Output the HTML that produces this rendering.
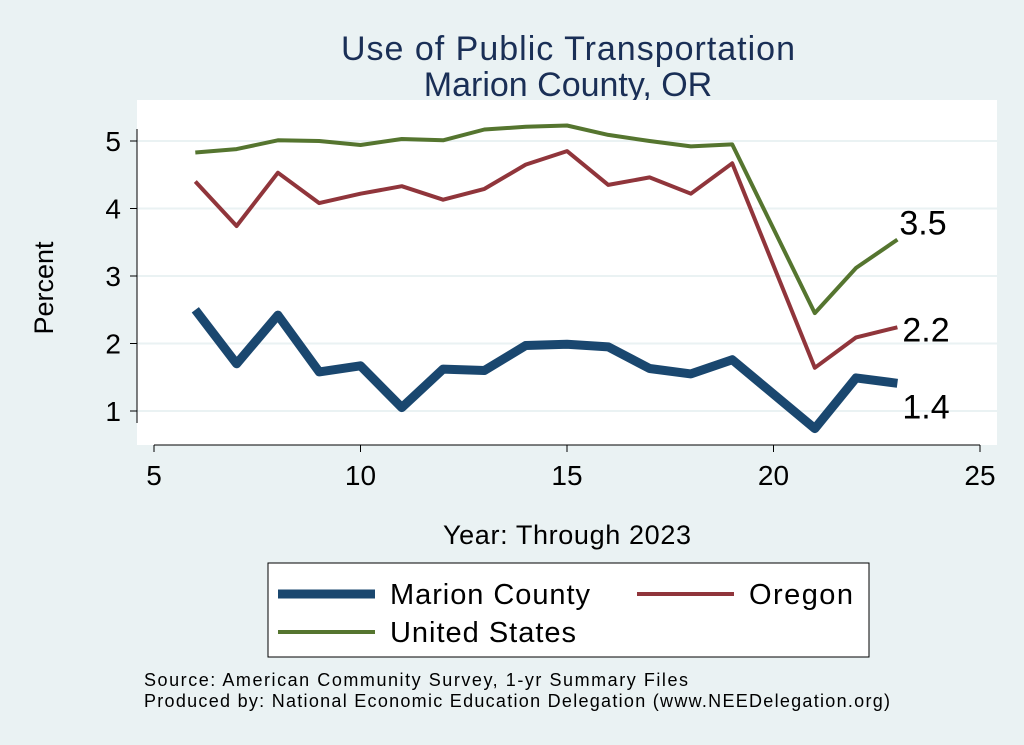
<!DOCTYPE html>
<html><head><meta charset="utf-8"><style>
body{margin:0;background:#eaf2f3;}
svg{display:block;font-family:"Liberation Sans",sans-serif;}
</style></head><body>
<svg id="chart" width="1024" height="745">
<rect x="0" y="0" width="1024" height="745" fill="#eaf2f3"/>
<text x="568" y="60" text-anchor="middle" font-size="34" textLength="454" fill="#1a2f56">Use of Public Transportation</text>
<text x="568" y="96" text-anchor="middle" font-size="34" fill="#1a2f56">Marion County, OR</text>
<rect x="137" y="100" width="860" height="345" fill="#fff"/>
<g id="grid"></g><g id="axes"></g><g id="series"></g><g id="labels"></g>
<text x="53" y="288" transform="rotate(-90 53 288)" font-size="27" text-anchor="middle">Percent</text>
<text x="567" y="544" text-anchor="middle" font-size="27" textLength="248">Year: Through 2023</text>
<g>
<rect x="268" y="563" width="601" height="94" fill="#fff" stroke="#000" stroke-width="1"/>
<line x1="278" y1="594" x2="375" y2="594" stroke="#1a476f" stroke-width="9"/>
<text x="390" y="604" font-size="29" textLength="200">Marion County</text>
<line x1="637" y1="594" x2="734" y2="594" stroke="#90353b" stroke-width="4"/>
<text x="749" y="604" font-size="29" textLength="104">Oregon</text>
<line x1="278" y1="632" x2="375" y2="632" stroke="#55752f" stroke-width="4"/>
<text x="390" y="642" font-size="29" textLength="186">United States</text>
</g>
<text x="144" y="686" font-size="18" textLength="544">Source: American Community Survey, 1-yr Summary Files</text>
<text x="144" y="707" font-size="18" textLength="746">Produced by: National Economic Education Delegation (www.NEEDelegation.org)</text>
</svg>
<script>
const years=[6,7,8,9,10,11,12,13,14,15,16,17,18,19,21,22,23];
const usVals=[4.83,4.88,5.01,5.0,4.94,5.03,5.01,5.17,5.21,5.23,5.09,5.0,4.92,4.95,2.45,3.12,3.54];
const orVals=[4.4,3.74,4.53,4.08,4.22,4.33,4.13,4.29,4.65,4.85,4.35,4.46,4.22,4.67,1.64,2.09,2.24];
const marionVals=[2.5,1.7,2.42,1.58,1.67,1.05,1.62,1.6,1.97,1.99,1.95,1.63,1.55,1.76,0.74,1.49,1.41];
const xTicks=[5,10,15,20,25];
const yTicks=[1,2,3,4,5];
const endLabels=["1.4","2.2","3.5"];
const NS="http://www.w3.org/2000/svg";
const xs=v=>154+(v-5)*(980-154)/20;
const ys=v=>411-(v-1)*(411-141)/4;
function mk(tag,attrs,parent,txt){const e=document.createElementNS(NS,tag);for(const k in attrs)e.setAttribute(k,attrs[k]);if(txt!==undefined)e.textContent=txt;document.getElementById(parent).appendChild(e);return e;}
yTicks.forEach(t=>{
 const g=mk('line',{x1:137,x2:997,y1:ys(t),y2:ys(t),stroke:'#eaf2f3','stroke-width':2},'grid');
 
 
 const tk=mk('line',{x1:130,x2:137,y1:ys(t),y2:ys(t),stroke:'#000'},'axes');
 
 
 const l=mk('text',{x:121,y:ys(t)+10,'font-size':28,'text-anchor':'end'},'axes',String(t));
 
 
});
const ya=mk('line',{x1:137,x2:137,y1:ys(1)+12,y2:ys(5)-12,stroke:'#000'},'axes');


const xa=mk('line',{x1:xs(5),x2:xs(25),y1:445,y2:445,stroke:'#000'},'axes');


xTicks.forEach(t=>{
 const tk=mk('line',{x1:xs(t),x2:xs(t),y1:445,y2:452,stroke:'#000'},'axes');
 
 
 const l=mk('text',{x:xs(t),y:485,'font-size':28,'text-anchor':'middle'},'axes',String(t));
 
 
});
function line(vals,color,w,name){
 const d=vals.map((v,i)=>(i?'L':'M')+xs(years[i]).toFixed(1)+','+ys(v).toFixed(1)).join('');
 const p=mk('path',{d:d,fill:'none',stroke:color,'stroke-width':w,'stroke-linejoin':'round'},'series');
 
 
}
line(usVals,'#55752f',4,'us-line');
line(orVals,'#90353b',4,'oregon-line');
line(marionVals,'#1a476f',9,'marion-line');
const last=years.length-1;
const lx=xs(years[last])+5;
const m=mk('text',{x:lx,y:ys(marionVals[last])+35,'font-size':34},'labels',endLabels[0]);


const o=mk('text',{x:lx,y:ys(orVals[last])+14,'font-size':34},'labels',endLabels[1]);


const u=mk('text',{x:lx-3,y:ys(usVals[last])-5,'font-size':34},'labels',endLabels[2]);


</script>
</body></html>
